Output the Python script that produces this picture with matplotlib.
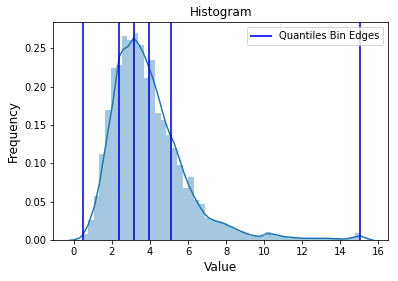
import matplotlib
matplotlib.use("Agg")
import matplotlib.pyplot as plt
import numpy as np

# Quantile bin edges (vertical lines)
quantile_edges = [0.47, 2.37, 3.14, 3.95, 5.10, 15.06]

# Histogram: 50 equal bins between min and max, density heights
hist_min = 0.47
hist_max = 15.06
hist_heights = [
    0.008, 0.026, 0.058, 0.113, 0.170, 0.224, 0.228, 0.266, 0.261, 0.270,
    0.254, 0.211, 0.235, 0.166, 0.157, 0.137, 0.120, 0.098, 0.068, 0.082,
    0.052, 0.047, 0.029, 0.026, 0.025, 0.022, 0.018, 0.015, 0.012, 0.009,
    0.006, 0.005, 0.006, 0.011, 0.008, 0.006, 0.004, 0.003, 0.003, 0.003,
    0.003, 0.003, 0.003, 0.002, 0.002, 0.002, 0.002, 0.002, 0.004, 0.009,
]

# KDE curve points
kde_x = [-0.23, 0.0, 0.3, 0.47, 0.75, 1.08, 1.35, 1.60, 1.82, 2.04, 2.22, 2.39,
         2.57, 2.83, 3.0, 3.14, 3.3, 3.44, 3.65, 3.88, 4.15, 4.40, 4.62, 4.84,
         5.05, 5.28, 5.55, 5.80, 6.05, 6.32, 6.60, 6.85, 7.10, 7.37, 7.62,
         7.89, 8.15, 8.42, 8.85, 9.29, 9.73, 10.0, 10.17, 10.45, 10.69, 11.0,
         11.39, 11.8, 12.26, 12.8, 13.31, 13.8, 14.18, 14.45, 14.7, 14.9,
         15.06, 15.25, 15.4, 15.6, 15.76]
kde_y = [0.000, 0.0005, 0.003, 0.007, 0.020, 0.044, 0.075, 0.113, 0.146, 0.178,
         0.210, 0.239, 0.248, 0.252, 0.258, 0.263, 0.259, 0.254, 0.244, 0.230,
         0.211, 0.191, 0.171, 0.152, 0.138, 0.126, 0.106, 0.087, 0.071, 0.057,
         0.045, 0.035, 0.029, 0.026, 0.024, 0.022, 0.019, 0.016, 0.011, 0.007,
         0.005, 0.007, 0.009, 0.008, 0.007, 0.005, 0.004, 0.003, 0.0026,
         0.0026, 0.0026, 0.002, 0.0017, 0.0025, 0.004, 0.005, 0.0056, 0.004,
         0.0026, 0.001, 0.0]

x_ticks = [0, 2, 4, 6, 8, 10, 12, 14, 16]
y_ticks = [0.00, 0.05, 0.10, 0.15, 0.20, 0.25]

fig = plt.figure(figsize=(398 / 72, 281 / 72), dpi=72)
ax = fig.add_axes([0.134, 0.1448, 0.841, 0.7758])

edges = np.linspace(hist_min, hist_max, len(hist_heights) + 1)
ax.bar(edges[:-1], hist_heights, width=np.diff(edges), align="edge",
       color="C0", alpha=0.4, linewidth=0)
ax.plot(kde_x, kde_y, color="C0", lw=1.5)

for i, q in enumerate(quantile_edges):
    ax.axvline(q, color="blue", alpha=0.8, lw=2,
               label="Quantiles Bin Edges" if i == 0 else None)

ax.set_xlim(-1.08, 16.52)
ax.set_ylim(0, 0.2838)
ax.set_xticks(x_ticks)
ax.set_yticks(y_ticks)
ax.set_yticklabels([f"{v:.2f}" for v in y_ticks])
ax.set_title("Histogram", fontsize=12)
ax.set_xlabel("Value", fontsize=12)
ax.set_ylabel("Frequency", fontsize=12)
ax.legend(loc="upper right")

fig.savefig("out.png", dpi=72)
